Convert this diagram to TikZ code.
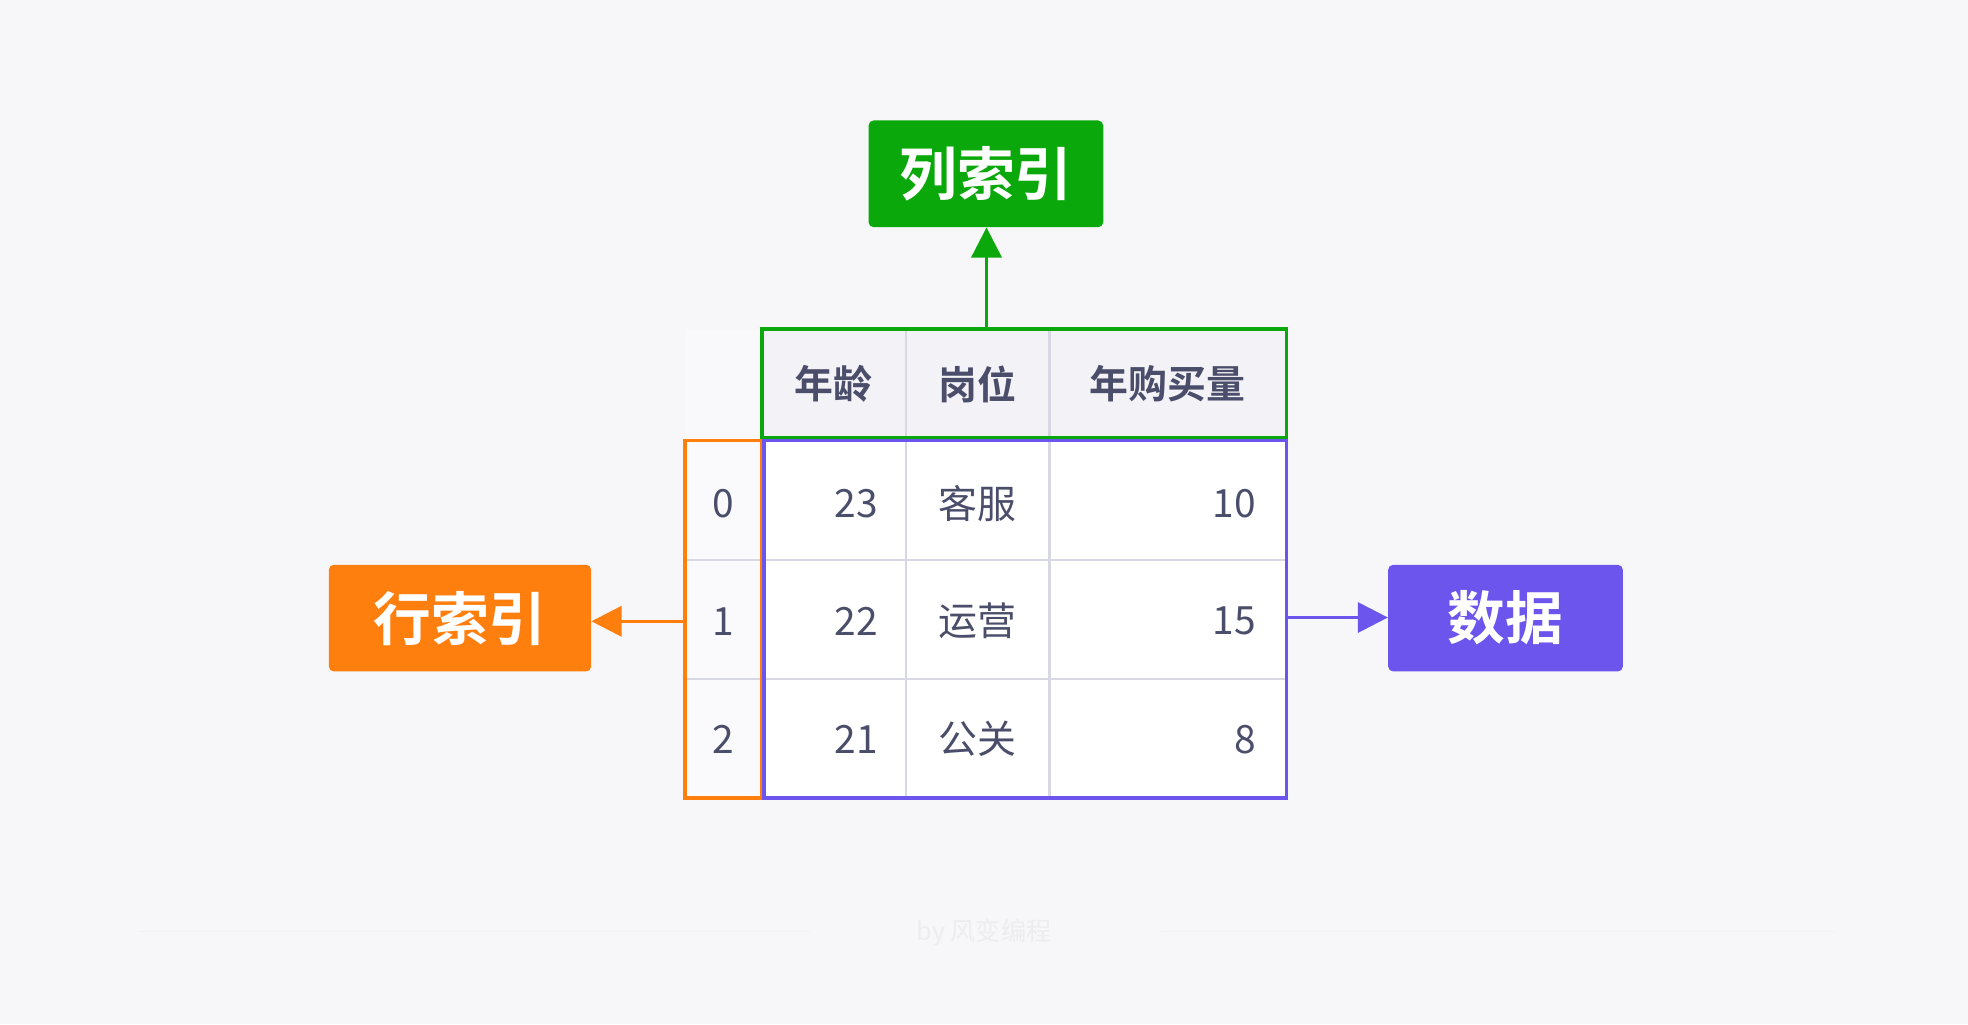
\documentclass[tikz,border=0pt]{standalone}
\usepackage{fontspec}
\setmainfont{Noto Sans CJK SC}
\newfontfamily\cjkb{Noto Sans CJK SC Bold}
\usetikzlibrary{arrows.meta}
\definecolor{bg}{HTML}{F7F7FA}
\definecolor{gr}{HTML}{0AA80A}
\definecolor{orn}{HTML}{FF7F0E}
\definecolor{pur}{HTML}{6B55EC}
\definecolor{txt}{HTML}{4A4E6A}
\definecolor{grid}{HTML}{D8D8E4}
\definecolor{hdr}{HTML}{F3F3F7}
\begin{document}
\begin{tikzpicture}[x=1pt,y=-1pt,
  lab/.style={rounded corners=4pt,text=white,font=\cjkb\fontsize{46}{46}\selectfont,inner sep=0pt},
  cell/.style={text=txt,font=\fontsize{31}{31}\selectfont},
  hcell/.style={text=txt,font=\cjkb\fontsize{31}{31}\selectfont},
  tip/.style={-{Triangle[length=24pt,width=24pt]},line width=2.5pt}]
\fill[bg] (0,0) rectangle (1568,816);
\useasboundingbox (0,0) rectangle (1568,816);
\fill[white] (607,349) rectangle (1025,636);
\fill[hdr] (607,262) rectangle (1025,349);
\fill[white!40!bg] (546,349) rectangle (607,636);
\fill[white!20!bg] (546,262) rectangle (607,349);
\draw[grid,line width=2pt] (722,262) -- (722,636) (836,262) -- (836,636)
  (546,446) -- (1025,446) (546,541) -- (1025,541);
\node[hcell] at (664,306) {年龄};
\node[hcell] at (779,306) {岗位};
\node[hcell] at (930,306) {年购买量};
\node[cell] at (576,401) {0};
\node[cell] at (576,495) {1};
\node[cell] at (576,589) {2};
\node[cell,anchor=east] at (703,401) {23};
\node[cell,anchor=east] at (703,495) {22};
\node[cell,anchor=east] at (703,589) {21};
\node[cell] at (779,401) {客服};
\node[cell] at (779,495) {运营};
\node[cell] at (779,589) {公关};
\node[cell,anchor=east] at (1004,401) {10};
\node[cell,anchor=east] at (1004,495) {15};
\node[cell,anchor=east] at (1004,589) {8};
\draw[gr,line width=3pt] (607,262) rectangle (1025,349);
\draw[orn,line width=3pt] (546,351) rectangle (607,636);
\draw[pur,line width=3pt] (609,351) rectangle (1025,636);
\coordinate (hd) at (786,262);
\coordinate (ix) at (546,495);
\coordinate (da) at (1025,492);
\node[lab,fill=gr,minimum width=187pt,minimum height=85pt] (L1) at (785.5,138.5) {列索引};
\node[lab,fill=orn,minimum width=209pt,minimum height=85pt] (L2) at (366.5,492.5) {行索引};
\node[lab,fill=pur,minimum width=187pt,minimum height=85pt] (L3) at (1199.5,492.5) {数据};
\draw[tip,gr] (hd) -- (hd |- L1.south);
\draw[tip,orn] (ix) -- (ix -| L2.east);
\draw[tip,pur] (da) -- (da -| L3.west);
\draw[black!5,line width=1pt] (110,742) -- (645,742) (925,742) -- (1462,742);
\node[text=black!7,font=\fontsize{20}{20}\selectfont] (ft) at (784,743) {by 风变编程};
\end{tikzpicture}
\end{document}
